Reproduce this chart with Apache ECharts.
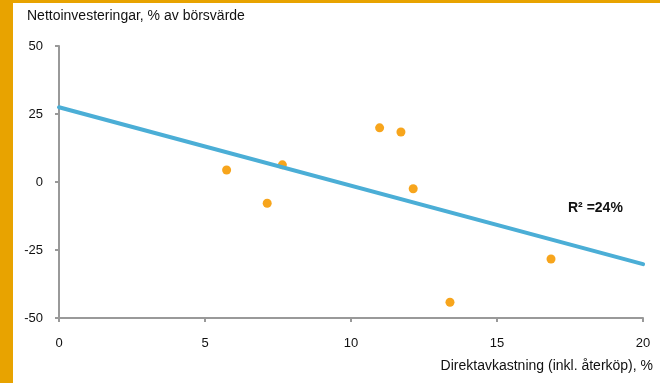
<!DOCTYPE html>
<html>
<head>
<meta charset="utf-8">
<script src="https://cdn.jsdelivr.net/npm/echarts@6/dist/echarts.min.js"></script>
<style>
html,body{margin:0;padding:0;background:#fff;}
#c{width:660px;height:383px;}
</style>
</head>
<body>
<div id="c"></div>
<script>
const yieldX = [5.74, 7.13, 7.65, 10.98, 11.71, 12.13, 13.39, 16.85];
const netInvY = [4.4, -7.8, 6.3, 19.9, 18.4, -2.5, -44.2, -28.3];
const trendX = [0, 20];
const trendY = [27.5, -30.2];
const yTicks = [-50, -25, 0, 25, 50];
const xTicks = [0, 5, 10, 15, 20];
const yTitle = 'Nettoinvesteringar, % av börsvärde';
const xTitle = 'Direktavkastning (inkl. återköp), %';
const r2Label = 'R² =24%';

const chart = echarts.init(document.getElementById('c'));
const font = 'Liberation Sans, Arial, sans-serif';
chart.setOption({
  animation: false,
  backgroundColor: '#fff',
  grid: {left: 59, right: 17, top: 46, bottom: 65, containLabel: false},
  xAxis: {
    type: 'value', min: xTicks[0], max: xTicks[xTicks.length-1], interval: 5,
    axisLine: {onZero: false, lineStyle: {color: '#999', width: 2}},
    axisTick: {show: true, length: 4, lineStyle: {color: '#999', width: 2}},
    splitLine: {show: false},
    axisLabel: {color: '#111', fontSize: 13, fontFamily: font, margin: 19}
  },
  yAxis: {
    type: 'value', min: yTicks[0], max: yTicks[yTicks.length-1], interval: 25,
    axisLine: {show: true, onZero: false, lineStyle: {color: '#999', width: 2}},
    axisTick: {show: true, length: 4, lineStyle: {color: '#999', width: 2}},
    splitLine: {show: false},
    axisLabel: {color: '#111', fontSize: 13, fontFamily: font, margin: 16}
  },
  series: [
    {
      type: 'line',
      data: trendX.map((x, i) => [x, trendY[i]]),
      symbol: 'none',
      lineStyle: {color: '#4BAED6', width: 4, cap: 'round'},
      z: 2
    },
    {
      type: 'scatter',
      data: yieldX.map((x, i) => [x, netInvY[i]]),
      symbolSize: 9,
      itemStyle: {color: '#F7A51C', opacity: 1},
      z: 1
    }
  ],
  graphic: [
    {type: 'rect', left: 0, top: 0, shape: {width: 13, height: 383}, style: {fill: '#E8A300'}},
    {type: 'rect', left: 13, top: 0, shape: {width: 647, height: 3}, style: {fill: '#E8A300'}},
    {type: 'text', left: 27, top: 9, style: {text: yTitle, fill: '#111', font: '14px ' + font}},
    {type: 'text', right: 7, top: 359, style: {text: xTitle, fill: '#111', font: '14px ' + font}},
    {type: 'text', left: 568, top: 201, style: {text: r2Label, fill: '#111', font: 'bold 14px ' + font}}
  ]
});
</script>
</body>
</html>
